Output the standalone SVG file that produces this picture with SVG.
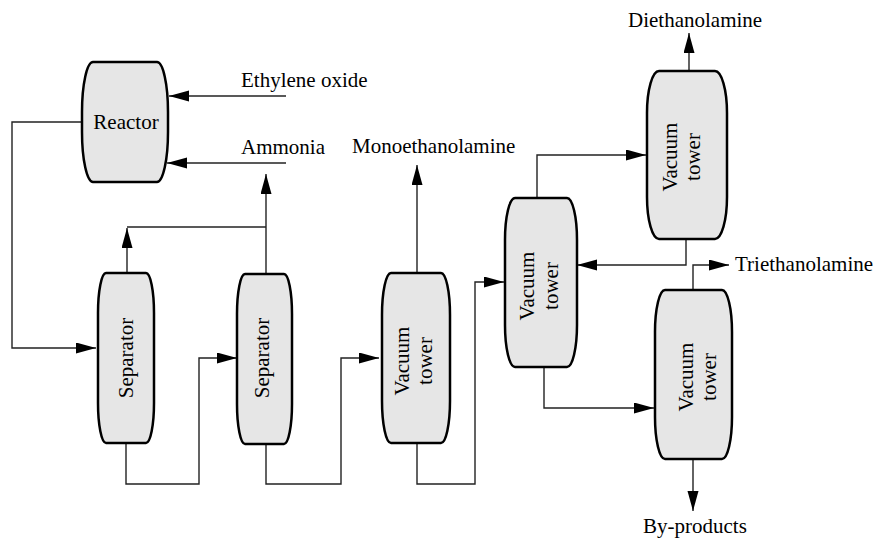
<svg xmlns="http://www.w3.org/2000/svg" width="877" height="538" viewBox="0 0 877 538">
<style>
.unit{fill:#e6e6e6;stroke:#000;stroke-width:2.5}
.lbl{font-family:"Liberation Serif","Times New Roman",serif;font-size:21px;fill:#000}
.mid{text-anchor:middle}
.conn path{fill:none;stroke:#222;stroke-width:1.4;marker-end:url(#arr)}
.conn path.plain{marker-end:none}
</style>
<defs>
<marker id="arr" markerUnits="userSpaceOnUse" markerWidth="21" markerHeight="12" refX="20" refY="5.5" orient="auto">
<path d="M0,0 L20,5.5 L0,11 z" fill="#000"/>
</marker>
</defs>
<rect width="877" height="538" fill="#fff"/>

<g class="conn" id="connectors">
<path d="M286,96 H169"/>
<path d="M286,163 H167"/>
<path d="M266,274 V174"/>
<path class="plain" d="M127,227 H266"/>
<path d="M127,273 V228"/>
<path d="M82,122 H12 V348 H96"/>
<path d="M126,443 V484 H199 V358 H237"/>
<path d="M266,444 V484 H341 V358 H379"/>
<path d="M417,273 V165"/>
<path d="M417,443 V484 H475 V282 H504"/>
<path d="M537,198 V155 H646"/>
<path d="M689,71 V33"/>
<path d="M686,239 V265 H577"/>
<path d="M693,290 V265 H729"/>
<path d="M693,459 V511"/>
<path d="M544,367 V408 H654"/>
</g>

<g id="reactor">
<rect class="unit" x="82" y="62" width="86" height="120" rx="11" ry="50"/>
<text class="lbl mid" x="126" y="129">Reactor</text>
</g>

<g id="separator1">
<rect class="unit" x="98" y="273" width="56" height="170" rx="8" ry="40"/>
<text class="lbl mid" transform="translate(133,358) rotate(-90)">Separator</text>
</g>

<g id="separator2">
<rect class="unit" x="237" y="274" width="55" height="170" rx="8" ry="40"/>
<text class="lbl mid" transform="translate(268.5,358) rotate(-90)">Separator</text>
</g>

<g id="tower1">
<rect class="unit" x="382" y="273" width="68" height="170" rx="9" ry="42"/>
<text class="lbl mid" transform="translate(408.5,361) rotate(-90)">Vacuum</text>
<text class="lbl mid" transform="translate(432,361) rotate(-90)">tower</text>
</g>

<g id="tower2">
<rect class="unit" x="505" y="198" width="72" height="169" rx="10" ry="42"/>
<text class="lbl mid" transform="translate(534,286) rotate(-90)">Vacuum</text>
<text class="lbl mid" transform="translate(557.5,286) rotate(-90)">tower</text>
</g>

<g id="tower3">
<rect class="unit" x="647" y="71" width="80" height="168" rx="12" ry="42"/>
<text class="lbl mid" transform="translate(677,157) rotate(-90)">Vacuum</text>
<text class="lbl mid" transform="translate(700,157) rotate(-90)">tower</text>
</g>

<g id="tower4">
<rect class="unit" x="655" y="290" width="77" height="169" rx="10" ry="42"/>
<text class="lbl mid" transform="translate(693,377) rotate(-90)">Vacuum</text>
<text class="lbl mid" transform="translate(716,377) rotate(-90)">tower</text>
</g>

<g id="labels">
<text class="lbl" x="241" y="87">Ethylene oxide</text>
<text class="lbl" x="241" y="154">Ammonia</text>
<text class="lbl" x="352" y="153">Monoethanolamine</text>
<text class="lbl" x="628" y="27">Diethanolamine</text>
<text class="lbl" x="735" y="271">Triethanolamine</text>
<text class="lbl" x="643" y="533">By-products</text>
</g>
</svg>
